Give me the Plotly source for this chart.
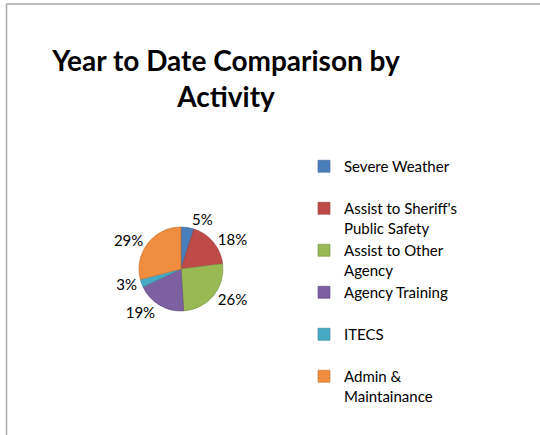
import plotly.graph_objects as go

W, H = 540, 435

categories = [
    "Severe Weather<br> ",
    "Assist to Sheriff's<br>Public Safety",
    "Assist to Other<br>Agency",
    "Agency Training<br> ",
    "ITECS<br> ",
    "Admin &<br>Maintainance",
]
values = [5, 18, 26, 19, 3, 29]
colors = ["#4A7EBB", "#BE4B48", "#98B954", "#7D60A0", "#46AAC5", "#F08D3E"]
edge_colors = ["#3A6595", "#963C3A", "#77903F", "#5F4A7C", "#358599", "#C8742F"]

# pie geometry in pixels
cx, cy, R = 181, 269, 42

fig = go.Figure()
fig.add_trace(go.Pie(
    labels=categories,
    values=values,
    sort=False,
    direction="clockwise",
    rotation=0,
    marker=dict(colors=colors, line=dict(color=edge_colors, width=0.6)),
    textposition="outside",
    texttemplate="%{percent:.0%}",
    textfont=dict(family="Lato", size=15, color="#000000"),
    domain=dict(x=[(cx - R) / W, (cx + R) / W], y=[1 - (cy + R) / H, 1 - (cy - R) / H]),
    showlegend=True,
    hoverinfo="label+percent",
))

fig.update_layout(
    width=W, height=H,
    margin=dict(l=0, r=0, t=0, b=0),
    paper_bgcolor="white",
    plot_bgcolor="white",
    title=dict(
        text="<b>Year to Date Comparison by<br>Activity</b>",
        font=dict(family="Lato", size=28, color="#000000"),
        x=226 / W, xanchor="center",
        y=1 - 71 / H, yanchor="top",
        xref="paper", yref="container",
    ),
    legend=dict(
        x=304 / W, xanchor="left",
        y=1 - 150 / H, yanchor="top",
        font=dict(family="Lato", size=15, color="#000000"),
        valign="top",
        bgcolor="rgba(0,0,0,0)",
    ),
    shapes=[
        dict(type="line", xref="paper", yref="paper", x0=6.5 / W, x1=1, y0=1 - 4 / H, y1=1 - 4 / H,
             line=dict(color="#A6A6A6", width=1.5)),
        dict(type="line", xref="paper", yref="paper", x0=6.5 / W, x1=6.5 / W, y0=0, y1=1 - 4 / H,
             line=dict(color="#A6A6A6", width=1.5)),
    ],
)

fig.write_html(
    "out.html",
    config={"displayModeBar": False},
    post_script="document.body.style.margin='0';document.body.style.overflow='hidden';",
)
